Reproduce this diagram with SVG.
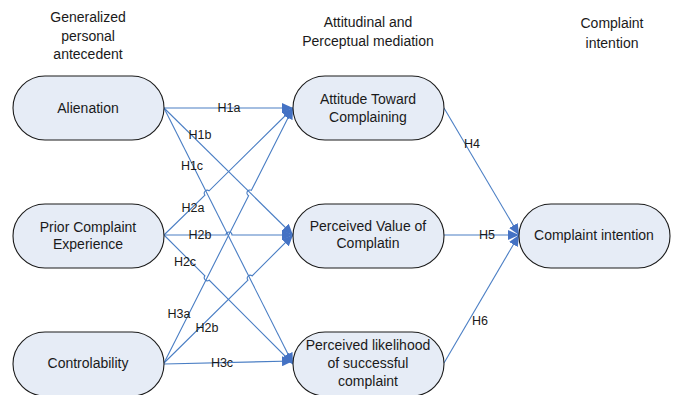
<svg xmlns="http://www.w3.org/2000/svg" width="674" height="395" viewBox="0 0 674 395">
<style>
.node rect{fill:#E6ECF6;stroke:#1a1a1a;stroke-width:1.1}
.node text{font-family:"Liberation Sans",Arial,sans-serif;font-size:14px;fill:#1a1a1a;text-anchor:middle}
.hdr{font-family:"Liberation Sans",Arial,sans-serif;font-size:14px;fill:#1a1a1a;text-anchor:middle}
.conn path{fill:none;stroke:#4A7EC4;stroke-width:1.1}
.lbl{font-family:"Liberation Sans",Arial,sans-serif;font-size:12.5px;fill:#1a1a1a;text-anchor:middle}
</style>
<defs>
<marker id="arr" markerUnits="userSpaceOnUse" markerWidth="12" markerHeight="10" refX="11" refY="5" orient="auto">
<path d="M0,0 L11,5 L0,10 z" fill="#4472C4"/>
</marker>
</defs>
<rect width="674" height="395" fill="#fff"/>
<g id="headers">
<text class="hdr" x="88" y="22">Generalized</text>
<text class="hdr" x="88" y="41">personal</text>
<text class="hdr" x="88" y="59">antecedent</text>
<text class="hdr" x="368" y="27">Attitudinal and</text>
<text class="hdr" x="368" y="46">Perceptual mediation</text>
<text class="hdr" x="612" y="28">Complaint</text>
<text class="hdr" x="612" y="48">intention</text>
</g>
<g id="connectors" class="conn">
<path d="M164,108 L293,108" marker-end="url(#arr)"/>
<path d="M164,108 L293,235" marker-end="url(#arr)"/>
<path d="M164,108 L293,364" marker-end="url(#arr)"/>
<path d="M164,235 L204.9,195.1 A3,3 0 0 1 209.1,190.9 L293,108" marker-end="url(#arr)"/>
<path d="M164,235 L226,235 A3,3 0 0 1 232,235 L293,235" marker-end="url(#arr)"/>
<path d="M164,235 L204.9,275.9 A3,3 0 0 0 209.1,280.1 L293,364" marker-end="url(#arr)"/>
<path d="M164,363 L248.6,195.7 A3,3 0 0 1 251.4,190.3 L293,108" marker-end="url(#arr)"/>
<path d="M164,363 L247.9,280.1 A3,3 0 0 1 252.1,275.9 L293,235" marker-end="url(#arr)"/>
<path d="M164,364 L293,361" marker-end="url(#arr)"/>
<path d="M444,108 L519,235" marker-end="url(#arr)"/>
<path d="M444,235 L519,235" marker-end="url(#arr)"/>
<path d="M444,363 L519,235" marker-end="url(#arr)"/>
</g>
<g id="labels">
<text class="lbl" x="229" y="112">H1a</text>
<text class="lbl" x="200" y="139">H1b</text>
<text class="lbl" x="192" y="170">H1c</text>
<text class="lbl" x="193" y="212">H2a</text>
<text class="lbl" x="200" y="239">H2b</text>
<text class="lbl" x="185" y="266">H2c</text>
<text class="lbl" x="179" y="318">H3a</text>
<text class="lbl" x="207" y="332">H2b</text>
<text class="lbl" x="222" y="367">H3c</text>
<text class="lbl" x="472" y="148">H4</text>
<text class="lbl" x="487" y="239">H5</text>
<text class="lbl" x="480" y="325">H6</text>
</g>
<g id="alienation" class="node">
<rect x="13" y="76" width="151" height="64" rx="32"/>
<text x="88" y="113">Alienation</text>
</g>
<g id="prior" class="node">
<rect x="13" y="204" width="151" height="64" rx="32"/>
<text x="88" y="232">Prior Complaint</text>
<text x="88" y="249">Experience</text>
</g>
<g id="controlability" class="node">
<rect x="13" y="332" width="151" height="64" rx="32"/>
<text x="88" y="368">Controlability</text>
</g>
<g id="attitude" class="node">
<rect x="293" y="76" width="151" height="64" rx="32"/>
<text x="368" y="104">Attitude Toward</text>
<text x="368" y="122">Complaining</text>
</g>
<g id="value" class="node">
<rect x="293" y="204" width="151" height="64" rx="32"/>
<text x="368" y="231">Perceived Value of</text>
<text x="368" y="248">Complatin</text>
</g>
<g id="likelihood" class="node">
<rect x="293" y="332" width="151" height="64" rx="32"/>
<text x="368" y="350">Perceived likelihood</text>
<text x="368" y="368">of successful</text>
<text x="368" y="386">complaint</text>
</g>
<g id="intention" class="node">
<rect x="519" y="204" width="151" height="64" rx="32"/>
<text x="594" y="240">Complaint intention</text>
</g>
</svg>
